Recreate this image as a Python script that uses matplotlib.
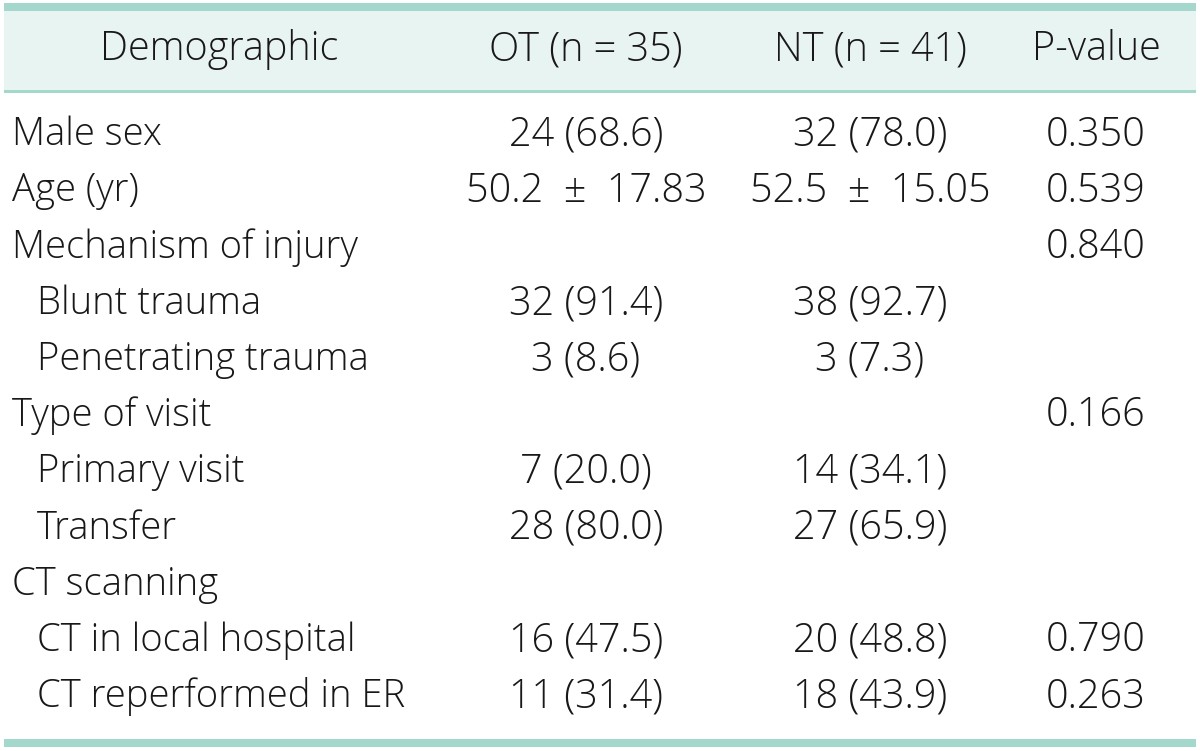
import matplotlib.pyplot as plt
from matplotlib.patches import Rectangle

headers = ['Demographic', 'OT (n = 35)', 'NT (n = 41)', 'P-value']
labels = ['Male sex', 'Age (yr)', 'Mechanism of injury', 'Blunt trauma',
          'Penetrating trauma', 'Type of visit', 'Primary visit', 'Transfer',
          'CT scanning', 'CT in local hospital', 'CT reperformed in ER']
indent = [0, 0, 0, 1, 1, 0, 1, 1, 0, 1, 1]
ot = ['24 (68.6)', '50.2 \u00b1 17.83', '', '32 (91.4)', '3 (8.6)', '',
      '7 (20.0)', '28 (80.0)', '', '16 (47.5)', '11 (31.4)']
nt = ['32 (78.0)', '52.5 \u00b1 15.05', '', '38 (92.7)', '3 (7.3)', '',
      '14 (34.1)', '27 (65.9)', '', '20 (48.8)', '18 (43.9)']
pval = ['0.350', '0.539', '0.840', '', '', '0.166', '', '', '', '0.790', '0.263']

W, H = 1200, 751
fig = plt.figure(figsize=(12, 7.51), dpi=100)
ax = fig.add_axes([0, 0, 1, 1])
ax.set_xlim(0, W)
ax.set_ylim(H, 0)
ax.axis('off')

teal = '#a5d8cc'
ax.add_patch(Rectangle((4, 10), 1192, 81, color='#e8f4f2', lw=0))
ax.add_patch(Rectangle((4, 3), 1192, 8, color=teal, lw=0))
ax.add_patch(Rectangle((4, 90), 1192, 2.5, color=teal, lw=0))
ax.add_patch(Rectangle((4, 739), 1192, 8, color=teal, lw=0))

font = dict(family='Open Sans', fontsize=27.5, fontweight='light',
            color='#1a1718', va='center')
num = dict(font, fontsize=28.5)
col_x = [219, 586, 870, 1096]
for x, h in zip(col_x, headers):
    ax.text(x, 50, h, ha='center', **num)

y0, dy = 135, 56.2
for i, lab in enumerate(labels):
    y = y0 + i * dy
    ax.text(12 + 25 * indent[i], y, lab, ha='left', **font)
    ax.text(col_x[1], y, ot[i].replace(' \u00b1 ', '  \u00b1  '), ha='center', **num)
    ax.text(col_x[2], y, nt[i].replace(' \u00b1 ', '  \u00b1  '), ha='center', **num)
    ax.text(col_x[3], y, pval[i], ha='center', **num)

fig.savefig('out.png', dpi=100)
